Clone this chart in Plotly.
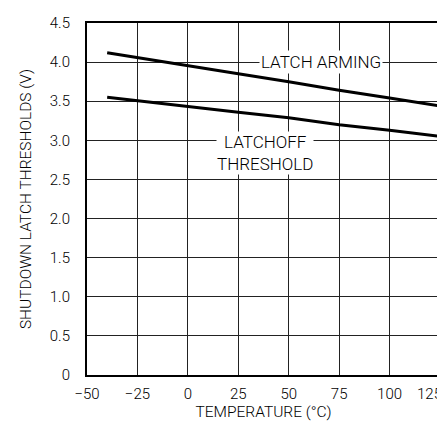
import plotly.graph_objects as go

temp = [-40, 0, 25, 50, 75, 100, 125]
latch_arming = [4.12, 3.95, 3.85, 3.75, 3.64, 3.54, 3.44]
latchoff = [3.55, 3.43, 3.36, 3.29, 3.20, 3.13, 3.05]

x_ticks = [-50, -25, 0, 25, 50, 75, 100, 125]
x_labels = ["\u221250", "\u221225", "0", "25", "50", "75", "100", "125"]
y_ticks = [0, 0.5, 1.0, 1.5, 2.0, 2.5, 3.0, 3.5, 4.0, 4.5]
y_labels = ["0", "0.5", "1.0", "1.5", "2.0", "2.5", "3.0", "3.5", "4.0", "4.5"]

FONT = "Roboto, Liberation Sans, Arial, sans-serif"

fig = go.Figure()
fig.add_trace(go.Scatter(x=temp, y=latch_arming, mode="lines",
                         line=dict(color="black", width=3), showlegend=False))
fig.add_trace(go.Scatter(x=temp, y=latchoff, mode="lines",
                         line=dict(color="black", width=3), showlegend=False))

fig.add_annotation(x=66, y=4.0, text="LATCH ARMING", showarrow=False,
                   bgcolor="white", font=dict(size=17, color="black", family=FONT, weight=300),
                   borderpad=1)
fig.add_annotation(x=38, y=2.84, text="LATCHOFF<br>THRESHOLD", showarrow=False,
                   bgcolor="white", font=dict(size=17, color="black", family=FONT, weight=300),
                   borderpad=0)
# last x tick label, shifted left so it stays inside the canvas (as in the original)
fig.add_annotation(x=x_ticks[-1], xref="x", y=0, yref="paper", text=x_labels[-1],
                   showarrow=False, xanchor="right", yanchor="top",
                   xshift=4, yshift=-8,
                   font=dict(size=15, color="black", family=FONT, weight=300))

tick_text = x_labels[:-1] + [""]

fig.update_layout(
    width=445, height=421,
    margin=dict(l=79, r=13, t=15, b=54),
    paper_bgcolor="white", plot_bgcolor="white",
    font=dict(family=FONT, size=15, color="black", weight=300),
    xaxis=dict(range=[-50, 125], tickvals=x_ticks, ticktext=tick_text,
               showgrid=True, gridcolor="#222", gridwidth=1,
               showline=True, linecolor="black", linewidth=2, mirror=True,
               ticks="", zeroline=False, ticklabelstandoff=4, automargin=False,
               ticklabeloverflow="allow",
               tickfont=dict(size=15, weight=300),
               title=dict(text="TEMPERATURE (\u00b0C)", standoff=0,
                          font=dict(size=15.5, weight=300))),
    yaxis=dict(range=[0, 4.5], tickvals=y_ticks, ticktext=y_labels,
               showgrid=True, gridcolor="#222", gridwidth=1,
               showline=True, linecolor="black", linewidth=2, mirror=True,
               ticks="", zeroline=False, ticklabelstandoff=12, automargin=False,
               ticklabeloverflow="allow",
               tickfont=dict(size=15, weight=300),
               title=dict(text="SHUTDOWN LATCH THRESHOLDS (V)", standoff=14,
                          font=dict(size=15.5, weight=300))),
)

fig.write_html("out.html")
